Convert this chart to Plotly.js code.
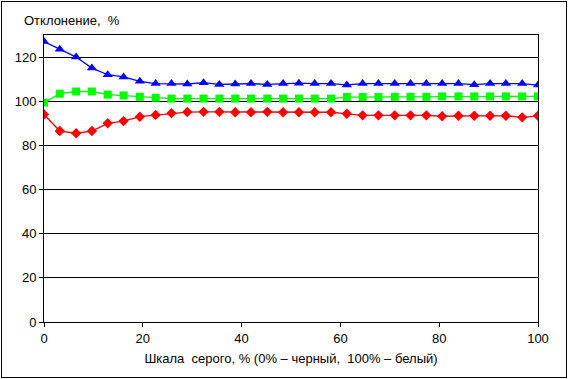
<!DOCTYPE html>
<html>
<head>
<meta charset="utf-8">
<script src="https://cdn.plot.ly/plotly-3.0.1.min.js"></script>
<style>
  body { margin: 0; background: #fff; }
  #chart { width: 568px; height: 379px; }
  #frame { position: absolute; left: 1px; top: 1px; width: 564px; height: 375px; border: 1px solid #000; pointer-events: none; }
</style>
</head>
<body>
<div id="chart"></div>
<div id="frame"></div>
<script>
// Grey scale steps (32 points, 0..100)
const xValues = [0, 3.2, 6.5, 9.7, 12.9, 16.1, 19.4, 22.6, 25.8, 29.0, 32.3, 35.5, 38.7, 41.9, 45.2, 48.4,
                 51.6, 54.8, 58.1, 61.3, 64.5, 67.7, 71.0, 74.2, 77.4, 80.6, 83.9, 87.1, 90.3, 93.5, 96.8, 100];

const blueValues = [127, 123.5, 120, 115, 112, 111, 109, 108, 108, 107.8, 108.4, 107.6, 107.8, 108, 107.6, 108,
                    108.2, 108, 108, 107.4, 108, 108, 108, 108, 108, 108, 108, 107.5, 108, 108, 108, 107.3];

const greenValues = [99.4, 103.4, 104.4, 104.4, 103, 102.6, 102, 101.6, 101.2, 101.2, 101.2, 101.2, 101.2, 101.2, 101.2, 101.2,
                     101.2, 101.2, 101.2, 101.9, 101.9, 101.9, 102, 102, 102, 102.2, 102.2, 102.2, 102.2, 102.2, 102.2, 102.2];

const redValues = [94, 86.5, 85.5, 86.5, 90, 91, 93, 93.8, 94.6, 95.1, 95.2, 95.2, 95, 95, 95.2, 95,
                   95, 95, 95, 94.3, 93.6, 93.6, 93.6, 93.6, 93.6, 93.2, 93.4, 93.4, 93.4, 93.4, 92.7, 93.4];

const yTicks = [0, 20, 40, 60, 80, 100, 120];
const xTicks = [0, 20, 40, 60, 80, 100];

const font = { family: 'Arial, "Liberation Sans", sans-serif', size: 13, color: '#000' };

const traces = [
  { x: xValues, y: blueValues, mode: 'lines+markers', type: 'scatter',
    line: { color: '#0000FF', width: 1.3 },
    marker: { symbol: 'triangle-up', size: 9, color: '#0000FF' } },
  { x: xValues, y: greenValues, mode: 'lines+markers', type: 'scatter',
    line: { color: '#00FF00', width: 1.3 },
    marker: { symbol: 'square', size: 8, color: '#00FF00' } },
  { x: xValues, y: redValues, mode: 'lines+markers', type: 'scatter',
    line: { color: '#FF0000', width: 1.3 },
    marker: { symbol: 'diamond', size: 8, color: '#FF0000' } }
];

const layout = {
  width: 568, height: 379,
  margin: { l: 44, r: 30, t: 35, b: 57 },
  paper_bgcolor: '#fff', plot_bgcolor: '#fff',
  showlegend: false,
  font: font,
  annotations: [{
    text: 'Отклонение,  %', xref: 'paper', yref: 'paper',
    x: -0.045, y: 1.0, xanchor: 'left', yanchor: 'bottom', yshift: 5,
    showarrow: false, font: font
  }],
  xaxis: {
    range: [0, 100], tickvals: xTicks, ticktext: xTicks.map(String),
    showgrid: false, zeroline: false,
    showline: true, linecolor: '#000', linewidth: 1, mirror: true,
    ticks: 'outside', ticklen: 4, tickcolor: '#000',
    tickfont: font,
    title: { text: 'Шкала  серого, % (0% – черный,  100% – белый)', font: font, standoff: 9 }
  },
  yaxis: {
    range: [0, 130], tickvals: yTicks, ticktext: yTicks.map(String),
    showgrid: true, gridcolor: '#000', gridwidth: 1, zeroline: false,
    showline: true, linecolor: '#000', linewidth: 1, mirror: true,
    ticks: 'outside', ticklen: 4, tickcolor: '#000',
    tickfont: font
  }
};

Plotly.newPlot('chart', traces, layout, { displayModeBar: false, staticPlot: true });
</script>
</body>
</html>
